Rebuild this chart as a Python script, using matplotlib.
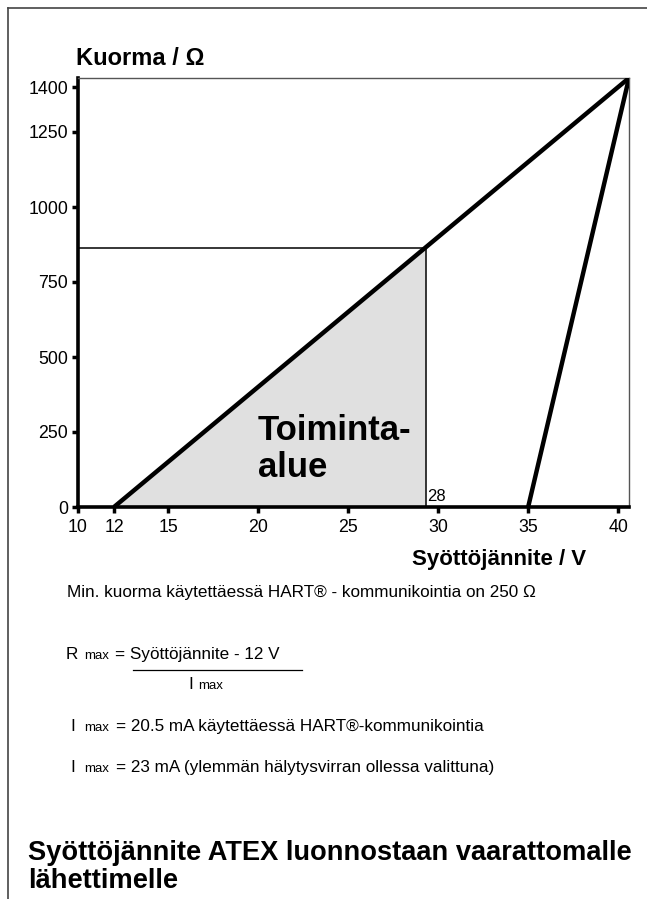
import matplotlib
matplotlib.use("Agg")
import matplotlib.pyplot as plt
from matplotlib.lines import Line2D

plt.rcParams['font.family'] = ['Liberation Sans', 'DejaVu Sans']

W, H = 647, 899
DPI = 100

# ---- data ----
supply_line_v = [12, 40.6]
supply_line_r = [0, 1430]
atex_line_v = [35, 40.6]
atex_line_r = [0, 1430]
op_v = 29.3
op_r = 865
op_label = "28"
area_v = [12, op_v, op_v]
area_r = [0, op_r, 0]
xticks = [10, 12, 15, 20, 25, 30, 35, 40]
yticks = [0, 250, 500, 750, 1000, 1250, 1400]
xlim = (10, 40.6)
ylim = (0, 1430)
region_label = ["Toiminta-", "alue"]

fig = plt.figure(figsize=(W / DPI, H / DPI), dpi=DPI)

def fx(x):
    return x / W

def fy(y):
    return 1 - y / H

# axes
left, right, top, bottom = 78, 629, 78, 507
ax = fig.add_axes([fx(left), fy(bottom), (right - left) / W, (bottom - top) / H])
ax.set_xlim(*xlim)
ax.set_ylim(*ylim)

ax.fill(area_v, area_r, color='#e0e0e0', zorder=1, lw=0)
ax.plot([xlim[0], op_v], [op_r, op_r], color='black', lw=1.1, zorder=2)
ax.plot([op_v, op_v], [0, op_r], color='black', lw=1.1, zorder=2)
ax.plot(supply_line_v, supply_line_r, color='black', lw=3.2, zorder=3, solid_capstyle='butt')
ax.plot(atex_line_v, atex_line_r, color='black', lw=3.2, zorder=3, solid_capstyle='butt')

ax.text(op_v + 0.1, 20, op_label, fontsize=12, ha='left', va='baseline')
ax.text(20, 223, region_label[0], fontsize=25, fontweight='bold', ha='left', va='baseline')
ax.text(20, 100, region_label[1], fontsize=25, fontweight='bold', ha='left', va='baseline')

ax.set_xticks(xticks)
ax.set_yticks(yticks)
ax.set_xticklabels([str(v) for v in xticks], fontsize=12.8)
ax.set_yticklabels([str(v) for v in yticks], fontsize=12.8)
ax.tick_params(axis='both', direction='out', length=4, width=2.5, color='black')
ax.tick_params(axis='x', pad=5)
ax.tick_params(axis='y', pad=3)

for s in ['left', 'bottom']:
    ax.spines[s].set_linewidth(2.6)
    ax.spines[s].set_color('black')
for s in ['top', 'right']:
    ax.spines[s].set_linewidth(1.0)
    ax.spines[s].set_color('#555555')

# axis titles
fig.text(fx(76), fy(65), "Kuorma / Ω", fontsize=17, fontweight='bold', va='baseline')
fig.text(fx(412), fy(565), "Syöttöjännite / V", fontsize=16, fontweight='bold', va='baseline')

# notes
fs = 12.3
sub = 9.5
fig.text(fx(67), fy(597), "Min. kuorma käytettäessä HART® - kommunikointia on 250 Ω", fontsize=fs, va='baseline')

fig.text(fx(66), fy(659), "R", fontsize=fs, va='baseline')
fig.text(fx(84), fy(659), "max", fontsize=sub, va='baseline')
fig.text(fx(115), fy(659), "= Syöttöjännite - 12 V", fontsize=fs, va='baseline')
fig.add_artist(Line2D([fx(133), fx(302)], [fy(670), fy(670)], color='black', lw=0.9))
fig.text(fx(188), fy(689), "I", fontsize=fs, va='baseline')
fig.text(fx(198), fy(689), "max", fontsize=sub, va='baseline')

fig.text(fx(70), fy(731), "I", fontsize=fs, va='baseline')
fig.text(fx(84), fy(731), "max", fontsize=sub, va='baseline')
fig.text(fx(116), fy(731), "= 20.5 mA käytettäessä HART®-kommunikointia", fontsize=fs, va='baseline')

fig.text(fx(70), fy(772), "I", fontsize=fs, va='baseline')
fig.text(fx(84), fy(772), "max", fontsize=sub, va='baseline')
fig.text(fx(116), fy(772), "= 23 mA (ylemmän hälytysvirran ollessa valittuna)", fontsize=fs, va='baseline')

fig.text(fx(28), fy(860), "Syöttöjännite ATEX luonnostaan vaarattomalle", fontsize=19.6, fontweight='bold', va='baseline')
fig.text(fx(28), fy(888), "lähettimelle", fontsize=19.6, fontweight='bold', va='baseline')

# page frame
fig.add_artist(Line2D([fx(8), fx(647)], [fy(8), fy(8)], color='#444444', lw=1.2))
fig.add_artist(Line2D([fx(8), fx(8)], [fy(8), fy(899)], color='#444444', lw=1.2))

fig.savefig("out.png", dpi=DPI)
